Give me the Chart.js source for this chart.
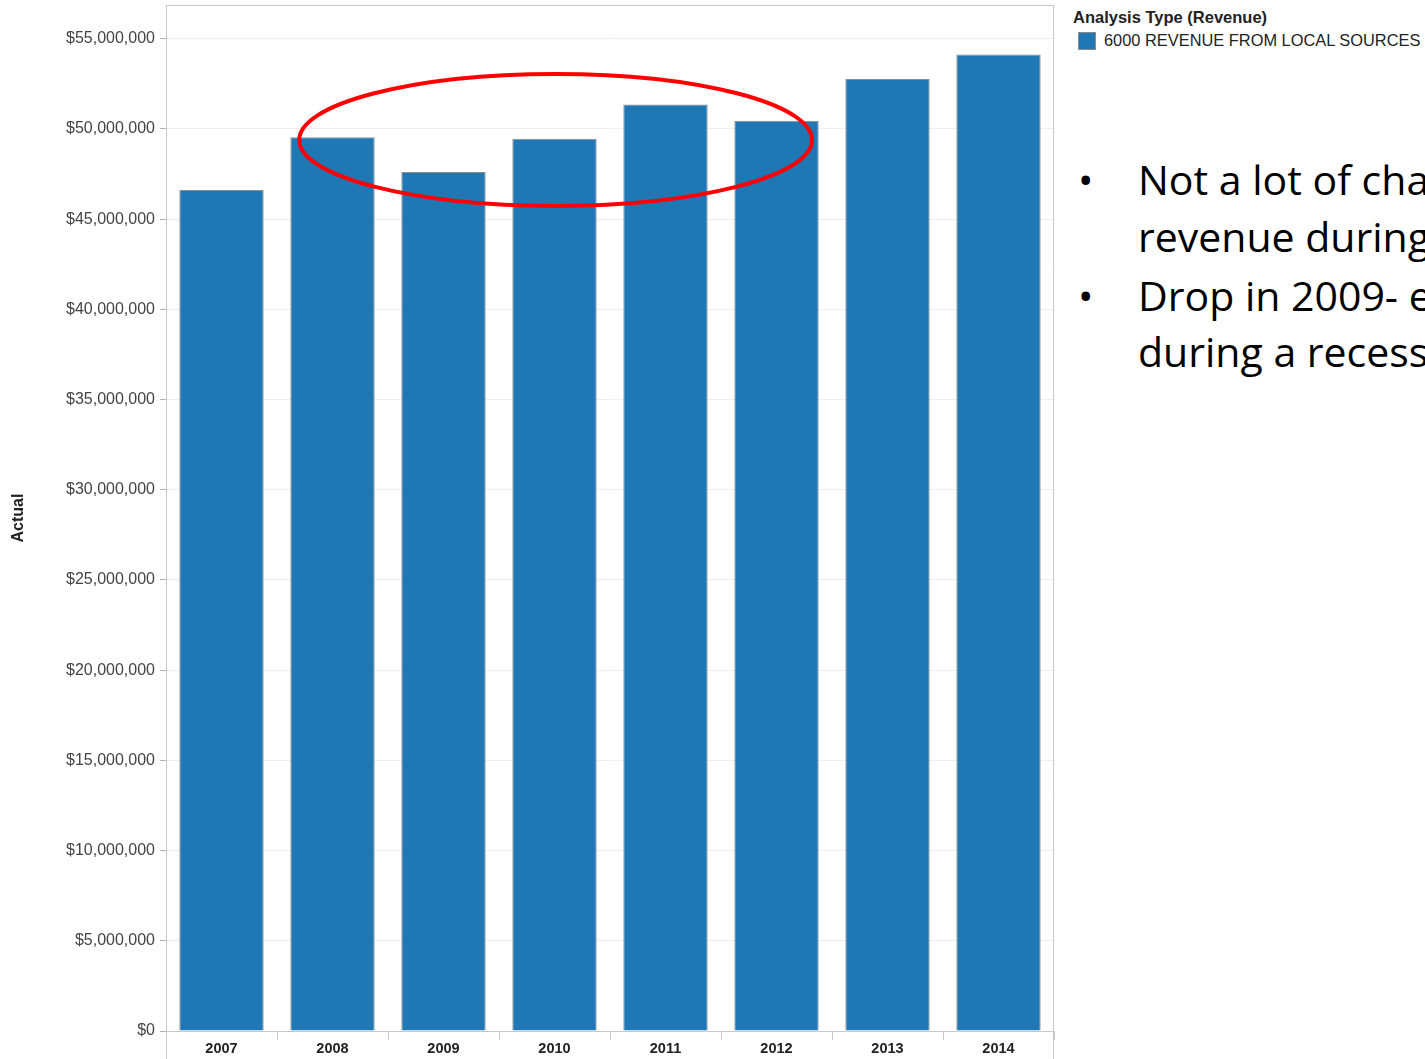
<!DOCTYPE html>
<html>
<head>
<meta charset="utf-8">
<script src="https://cdn.jsdelivr.net/npm/chart.js@4/dist/chart.umd.min.js"></script>
<style>
  html, body { margin: 0; padding: 0; background: #fff; overflow: hidden; width: 1425px; height: 1059px; }
  #wrap { position: absolute; left: 0; top: 0; width: 1060px; height: 1059px; }
  #legendTitle { position: absolute; left: 1073px; top: 8px; font: bold 16.5px "Liberation Sans", Arial, sans-serif; color: #222; white-space: nowrap; }
  #legendSwatch { position: absolute; left: 1078px; top: 32px; width: 18px; height: 18px; background: #1f77b4; border: 1px solid #8c8c8c; box-sizing: border-box; }
  #legendLabel { position: absolute; left: 1104px; top: 31px; font: 16.4px "Liberation Sans", Arial, sans-serif; color: #222; white-space: nowrap; }
  .bul { position: absolute; left: 1078px; font: 41px "Open Sans", sans-serif; color: #000; white-space: nowrap; line-height: 58px; }
  .bul span.dot { display: inline-block; width: 60px; }
</style>
</head>
<body>
<div id="wrap"><canvas id="c" width="1060" height="1059"></canvas></div>
<div id="legendTitle">Analysis Type (Revenue)</div>
<div id="legendSwatch"></div>
<div id="legendLabel">6000 REVENUE FROM LOCAL SOURCES</div>
<div class="bul" style="top:150px"><span class="dot">•</span>Not a lot of change in</div>
<div class="bul" style="top:207px"><span class="dot"></span>revenue during the</div>
<div class="bul" style="top:266px"><span class="dot">•</span>Drop in 2009- expected</div>
<div class="bul" style="top:322px"><span class="dot"></span>during a recession</div>
<script>
const years = ["2007", "2008", "2009", "2010", "2011", "2012", "2013", "2014"];
const actualRevenue = [46620000, 49540000, 47620000, 49450000, 51350000, 50460000, 52770000, 54120000];
const seriesName = "6000 REVENUE FROM LOCAL SOURCES";
const yAxisTitle = "Actual";
const yTickValues = [0, 5000000, 10000000, 15000000, 20000000, 25000000, 30000000, 35000000, 40000000, 45000000, 50000000, 55000000];
const yMax = 56870000;
// highlighted region (category index range and value range)
const highlightCats = [0.7, 5.32];
const highlightVals = [45730000, 53050000];

function fmtMoney(v) {
  return "$" + Math.round(v).toString().replace(/\B(?=(\d{3})+(?!\d))/g, ",");
}

const framePlugin = {
  id: "frame",
  afterDraw(chart) {
    const ctx = chart.ctx, a = chart.chartArea;
    ctx.save();
    ctx.strokeStyle = "#c8c8c8";
    ctx.lineWidth = 1;
    ctx.beginPath();
    ctx.moveTo(a.left + 0.5, a.top + 0.5);
    ctx.lineTo(a.right - 0.5, a.top + 0.5);
    ctx.moveTo(a.left + 0.5, a.top);
    ctx.lineTo(a.left + 0.5, chart.height);
    ctx.moveTo(a.right - 0.5, a.top);
    ctx.lineTo(a.right - 0.5, chart.height);
    ctx.stroke();
    const xs = chart.scales.x, ys = chart.scales.y;
    const x1 = xs.getPixelForValue(highlightCats[0]), x2 = xs.getPixelForValue(highlightCats[1]);
    const y1 = ys.getPixelForValue(highlightVals[1]), y2 = ys.getPixelForValue(highlightVals[0]);
    ctx.strokeStyle = "#ff0000";
    ctx.lineWidth = 4;
    ctx.beginPath();
    ctx.ellipse((x1 + x2) / 2, (y1 + y2) / 2, (x2 - x1) / 2, (y2 - y1) / 2, 0, 0, Math.PI * 2);
    ctx.stroke();
    ctx.restore();
  }
};

new Chart(document.getElementById("c"), {
  type: "bar",
  data: {
    labels: years,
    datasets: [{
      label: seriesName,
      data: actualRevenue,
      backgroundColor: "#1f77b4",
      borderColor: "#8c8c8c",
      borderWidth: { top: 1, left: 1, right: 1, bottom: 0 },
      borderSkipped: false,
      barPercentage: 0.76,
      categoryPercentage: 1.0
    }]
  },
  options: {
    responsive: false,
    devicePixelRatio: 1,
    animation: false,
    layout: { padding: { top: 5, right: 6, left: 0, bottom: 0 } },
    plugins: { legend: { display: false }, tooltip: { enabled: false } },
    scales: {
      x: {
        offset: true,
        grid: { offset: true, drawOnChartArea: false, tickLength: 9, color: "#c8c8c8" },
        border: { color: "#c8c8c8" },
        ticks: { font: { family: "Liberation Sans", size: 14.5, weight: "bold" }, color: "#222", padding: 0, maxRotation: 0 },
        afterFit(s) { s.height = 28; s.paddingLeft = 0; s.paddingRight = 0; }
      },
      y: {
        min: 0,
        max: yMax,
        afterBuildTicks(s) { s.ticks = yTickValues.map(v => ({ value: v })); },
        grid: { color: "#eeeeee", tickColor: "#b0b0b0", tickLength: 6 },
        border: { color: "#c8c8c8" },
        ticks: {
          font: { family: "Liberation Sans", size: 16 },
          color: "#444",
          padding: 5,
          callback: (v) => fmtMoney(v)
        },
        title: { display: true, text: yAxisTitle, font: { family: "Liberation Sans", size: 16, weight: "bold" }, color: "#222", padding: { top: 9, bottom: 0 } },
        afterFit(s) { s.width = 166; s.paddingTop = 0; s.paddingBottom = 0; }
      }
    }
  },
  plugins: [framePlugin]
});
</script>
</body>
</html>
